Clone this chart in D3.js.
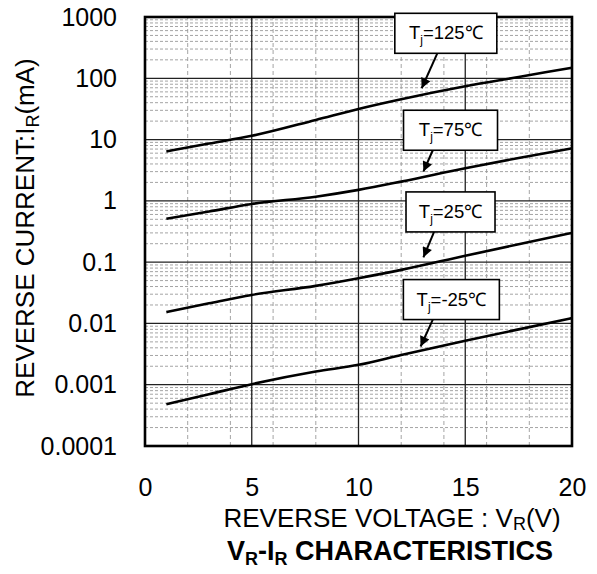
<!DOCTYPE html>
<html>
<head>
<meta charset="utf-8">
<script src="https://cdn.jsdelivr.net/npm/d3@7"></script>
<style>
  body { margin: 0; background: #fff; }
  text { font-family: "Liberation Sans", Arial, sans-serif; fill: #000; }
</style>
</head>
<body>
<div id="chart"></div>
<script>
// values
const voltage = [1, 3, 5, 8, 10, 12, 15, 17.5, 20];
const ir125 = [6.4, 8.6, 11.5, 20.9, 31.6, 45.5, 74, 105, 149];
const ir75 = [0.51, 0.67, 0.89, 1.17, 1.51, 2.06, 3.41, 5.0, 7.2];
const ir25 = [0.0153, 0.0213, 0.0292, 0.041, 0.0547, 0.0748, 0.127, 0.196, 0.30];
const irM25 = [0.00048, 0.0007, 0.00102, 0.00164, 0.00211, 0.00305, 0.0052, 0.0080, 0.0122];

const xTicks = [0, 5, 10, 15, 20];
const yTicks = [0.0001, 0.001, 0.01, 0.1, 1, 10, 100, 1000];
const yTickLabels = ["0.0001", "0.001", "0.01", "0.1", "1", "10", "100", "1000"];

// label boxes: temperature, box centre (V, mA), arrow start V, arrow tip (V, mA)
const tempLabels = ["125", "75", "25", "-25"];
const boxV = [14.09, 14.31, 14.31, 14.35];
const boxI = [542, 14.2, 0.66, 0.0245];
const arrowFromV = [13.69, 13.48, 13.54, 13.48];
const arrowTipV = [12.96, 13.04, 13.04, 12.91];
const arrowTipI = [68.7, 3.0, 0.12, 0.0042];

const width = 597, height = 574;
const margin = { top: 17, right: 25, bottom: 128, left: 145 };

const svg = d3.select("#chart").append("svg")
  .attr("width", width)
  .attr("height", height);

const x = d3.scaleLinear()
  .domain([0, 20])
  .range([margin.left, width - margin.right]);

const y = d3.scaleLog()
  .domain([0.0001, 1000])
  .range([height - margin.bottom, margin.top]);

// minor grid
const minorY = [];
for (let e = -4; e < 3; e++) {
  for (let m = 2; m <= 9; m++) minorY.push(m * Math.pow(10, e));
}
const minorX = [2, 4, 6, 8, 12, 14, 16, 18];

svg.append("g")
  .selectAll("line")
  .data(minorY)
  .join("line")
  .attr("x1", x(0)).attr("x2", x(20))
  .attr("y1", d => y(d)).attr("y2", d => y(d))
  .attr("stroke", "#9a9a9a")
  .attr("stroke-width", 0.9)
  .attr("stroke-dasharray", "3,2");

svg.append("g")
  .selectAll("line")
  .data(minorX)
  .join("line")
  .attr("x1", d => x(d)).attr("x2", d => x(d))
  .attr("y1", y(0.0001)).attr("y2", y(1000))
  .attr("stroke", "#9a9a9a")
  .attr("stroke-width", 0.9)
  .attr("stroke-dasharray", "4,3");

// major grid
svg.append("g")
  .selectAll("line")
  .data(yTicks.slice(1, -1))
  .join("line")
  .attr("x1", x(0)).attr("x2", x(20))
  .attr("y1", d => y(d)).attr("y2", d => y(d))
  .attr("stroke", "#222")
  .attr("stroke-width", 1.3);

svg.append("g")
  .selectAll("line")
  .data(xTicks.slice(1, -1))
  .join("line")
  .attr("x1", d => x(d)).attr("x2", d => x(d))
  .attr("y1", y(0.0001)).attr("y2", y(1000))
  .attr("stroke", "#222")
  .attr("stroke-width", 1.3);

// curves
const line = d3.line()
  .x(d => x(d[0]))
  .y(d => y(d[1]))
  .curve(d3.curveMonotoneX);

[ir125, ir75, ir25, irM25].forEach(series => {
  svg.append("path")
    .datum(voltage.map((v, i) => [v, series[i]]))
    .attr("d", line)
    .attr("fill", "none")
    .attr("stroke", "#000")
    .attr("stroke-width", 2.6);
});

// frame
svg.append("rect")
  .attr("x", x(0)).attr("y", y(1000))
  .attr("width", x(20) - x(0))
  .attr("height", y(0.0001) - y(1000))
  .attr("fill", "none")
  .attr("stroke", "#000")
  .attr("stroke-width", 2.6);

// annotation boxes + arrows
svg.append("defs").append("marker")
  .attr("id", "head")
  .attr("viewBox", "0 0 10 10")
  .attr("refX", 10).attr("refY", 5)
  .attr("markerWidth", 12).attr("markerHeight", 10)
  .attr("markerUnits", "userSpaceOnUse")
  .attr("orient", "auto")
  .append("path")
  .attr("d", "M0,0 L10,5 L0,10 Z")
  .attr("fill", "#000");

const boxW = [102, 94, 89, 96], boxH = 40;
tempLabels.forEach((t, i) => {
  const cx = x(boxV[i]), cy = y(boxI[i]);
  svg.append("line")
    .attr("x1", x(arrowFromV[i])).attr("y1", cy + boxH / 2)
    .attr("x2", x(arrowTipV[i])).attr("y2", y(arrowTipI[i]))
    .attr("stroke", "#000")
    .attr("stroke-width", 2)
    .attr("marker-end", "url(#head)");
  svg.append("rect")
    .attr("x", cx - boxW[i] / 2).attr("y", cy - boxH / 2)
    .attr("width", boxW[i]).attr("height", boxH)
    .attr("fill", "#fff")
    .attr("stroke", "#000")
    .attr("stroke-width", 1.6);
  const txt = svg.append("text")
    .attr("x", cx).attr("y", cy + 6)
    .attr("text-anchor", "middle")
    .style("font-size", "18.5px");
  txt.append("tspan").text("T");
  txt.append("tspan").attr("dy", 5).style("font-size", "12px").text("j");
  txt.append("tspan").attr("dy", -5).text("=" + t + "℃");
});

// axes
const xAxis = svg.append("g")
  .attr("transform", `translate(0,${y(0.0001)})`)
  .call(d3.axisBottom(x).tickValues(xTicks).tickSize(0).tickPadding(32));
xAxis.select(".domain").remove();
xAxis.selectAll("text")
  .style("font-size", "25px")
  .attr("fill", "#000");

const yAxis = svg.append("g")
  .attr("transform", `translate(${x(0)},0)`)
  .call(d3.axisLeft(y).tickValues(yTicks).tickSize(0).tickPadding(28)
    .tickFormat((d, i) => yTickLabels[i]));
yAxis.select(".domain").remove();
yAxis.selectAll("text")
  .style("font-size", "25px")
  .attr("fill", "#000");

// axis titles
const xt = svg.append("text")
  .attr("x", 392).attr("y", 527)
  .attr("text-anchor", "middle")
  .style("font-size", "26px");
xt.append("tspan").text("REVERSE VOLTAGE : V");
xt.append("tspan").attr("dy", 3).style("font-size", "18px").text("R");
xt.append("tspan").attr("dy", -3).text("(V)");

const yt = svg.append("text")
  .attr("transform", "translate(34,228) rotate(-90)")
  .attr("text-anchor", "middle")
  .style("font-size", "26px");
yt.append("tspan").text("REVERSE CURRENT:I");
yt.append("tspan").attr("dy", 5).style("font-size", "18px").text("R");
yt.append("tspan").attr("dy", -5).text("(mA)");

const title = svg.append("text")
  .attr("x", 390).attr("y", 560)
  .attr("text-anchor", "middle")
  .style("font-size", "27px")
  .style("font-weight", "bold");
title.append("tspan").text("V");
title.append("tspan").attr("dy", 5).style("font-size", "18px").text("R");
title.append("tspan").attr("dy", -5).text("-I");
title.append("tspan").attr("dy", 5).style("font-size", "18px").text("R");
title.append("tspan").attr("dy", -5).text(" CHARACTERISTICS");
</script>
</body>
</html>
